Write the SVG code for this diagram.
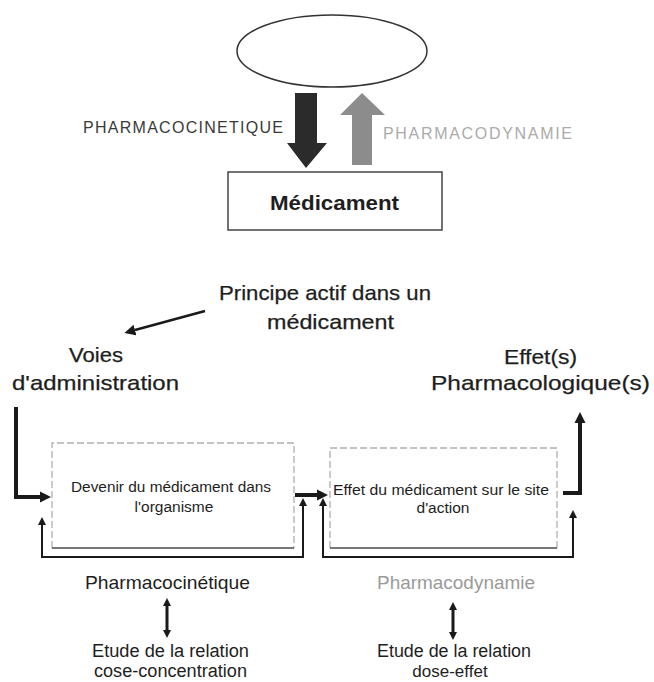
<svg xmlns="http://www.w3.org/2000/svg" width="654" height="682" viewBox="0 0 654 682">
<defs>
<style>
text{font-family:"Liberation Sans",Arial,sans-serif;fill:#1e1e1e}
.big{font-size:21px;stroke:#1e1e1e;stroke-width:0.25}
.mid{font-size:19px}
.sm{font-size:15.5px}
.caps{font-size:16px}
.box{fill:#fff;stroke:#b0b0b0;stroke-width:1.3;stroke-dasharray:7 3}
.base{stroke:#4a4a4a;stroke-width:1.6;fill:none}
.thick{fill:none;stroke:#1a1a1a;stroke-width:4}
.thin{fill:none;stroke:#1a1a1a;stroke-width:2}
.dbl{fill:none;stroke:#1a1a1a;stroke-width:3}
</style>
<marker id="hb" viewBox="0 0 10 10" refX="0" refY="5" markerWidth="11" markerHeight="12" markerUnits="userSpaceOnUse" orient="auto"><path d="M0,0L10,5L0,10z" fill="#1a1a1a"/></marker>
<marker id="hs" viewBox="0 0 10 10" refX="0" refY="5" markerWidth="8" markerHeight="8" markerUnits="userSpaceOnUse" orient="auto-start-reverse"><path d="M0,0L10,5L0,10z" fill="#1a1a1a"/></marker>
<marker id="hd" viewBox="0 0 10 10" refX="0" refY="5" markerWidth="8" markerHeight="10" markerUnits="userSpaceOnUse" orient="auto-start-reverse"><path d="M0,0L10,5L0,10z" fill="#1a1a1a"/></marker>
</defs>

<g id="ellipse"><ellipse cx="332" cy="51" rx="95" ry="36" fill="none" stroke="#333" stroke-width="1.5"/></g>

<g id="pk-arrow"><polygon points="295,93 317,93 317,143 327,143 306,168 287,143 295,143" fill="#2b2b2b"/></g>
<g id="pd-arrow"><polygon points="352,165 372,165 372,115 385,115 362,93 340,115 352,115" fill="#8c8c8c"/></g>
<g id="label-pk"><text class="caps" x="83" y="133" textLength="200" lengthAdjust="spacing" style="fill:#3a3a3a">PHARMACOCINETIQUE</text></g>
<g id="label-pd"><text class="caps" x="383" y="139" textLength="189" lengthAdjust="spacing" style="fill:#ababab">PHARMACODYNAMIE</text></g>

<g id="medicament"><rect x="228" y="172" width="214" height="58" fill="#fff" stroke="#444" stroke-width="1.5"/><text x="334.5" y="210" text-anchor="middle" font-size="20" font-weight="bold" textLength="129" lengthAdjust="spacingAndGlyphs">Médicament</text></g>

<g id="principe"><text class="big" x="325" y="300" text-anchor="middle" textLength="212" lengthAdjust="spacingAndGlyphs">Principe actif dans un</text><text class="big" x="330.5" y="329" text-anchor="middle" textLength="127" lengthAdjust="spacingAndGlyphs">médicament</text></g>

<g id="voies"><text class="big" x="96" y="362" text-anchor="middle" textLength="54" lengthAdjust="spacingAndGlyphs">Voies</text><text class="big" x="95.5" y="390" text-anchor="middle" textLength="167" lengthAdjust="spacingAndGlyphs">d'administration</text></g>

<g id="effets"><text class="big" x="540.5" y="364" text-anchor="middle" textLength="73" lengthAdjust="spacingAndGlyphs">Effet(s)</text><text class="big" x="540.5" y="390" text-anchor="middle" textLength="219" lengthAdjust="spacingAndGlyphs">Pharmacologique(s)</text></g>

<g id="devenir"><path class="box" d="M52,548V443H294V548"/><line class="base" x1="52" y1="548" x2="294" y2="548"/><text class="sm" x="171" y="492" text-anchor="middle" textLength="200" lengthAdjust="spacingAndGlyphs">Devenir du médicament dans</text><text class="sm" x="174" y="512" text-anchor="middle">l'organisme</text></g>

<g id="effet-site"><path class="box" d="M330,548V448H557V548"/><line class="base" x1="330" y1="548" x2="557" y2="548"/><text class="sm" x="441" y="495" text-anchor="middle" textLength="216" lengthAdjust="spacingAndGlyphs">Effet du médicament sur le site</text><text class="sm" x="443" y="513" text-anchor="middle">d'action</text></g>

<g id="pk"><text class="mid" x="167.5" y="589" text-anchor="middle" textLength="165" lengthAdjust="spacingAndGlyphs">Pharmacocinétique</text><text class="mid" x="170.5" y="657" text-anchor="middle" style="font-size:18px" textLength="157" lengthAdjust="spacingAndGlyphs">Etude de la relation</text><text class="mid" x="170.5" y="677" text-anchor="middle" style="font-size:18px" textLength="153" lengthAdjust="spacingAndGlyphs">cose-concentration</text></g>

<g id="pd"><text class="mid" x="456" y="589" text-anchor="middle" style="fill:#9a9a9a" textLength="158" lengthAdjust="spacingAndGlyphs">Pharmacodynamie</text><text class="mid" x="454" y="657" text-anchor="middle" style="font-size:18px" textLength="154" lengthAdjust="spacingAndGlyphs">Etude de la relation</text><text class="mid" x="450" y="677" text-anchor="middle" style="font-size:17px">dose-effet</text></g>

<g id="connectors">
<path class="thin" d="M205,311L135,330" style="stroke-width:2.5" marker-end="url(#hb)"/>
<path class="thick" d="M16,407V497H40" marker-end="url(#hb)"/>
<path class="thick" d="M295,495H317" marker-end="url(#hb)"/>
<path class="thick" d="M563,493H580V423" marker-end="url(#hb)"/>
<path class="thin" d="M303,506V557H42V525" marker-start="url(#hs)" marker-end="url(#hs)"/>
<path class="thin" d="M323,506V557H573V518" marker-start="url(#hs)" marker-end="url(#hs)"/>
<path class="dbl" d="M167,606V630" marker-start="url(#hd)" marker-end="url(#hd)"/>
<path class="dbl" d="M453,610V632" marker-start="url(#hd)" marker-end="url(#hd)"/>
</g>
</svg>
